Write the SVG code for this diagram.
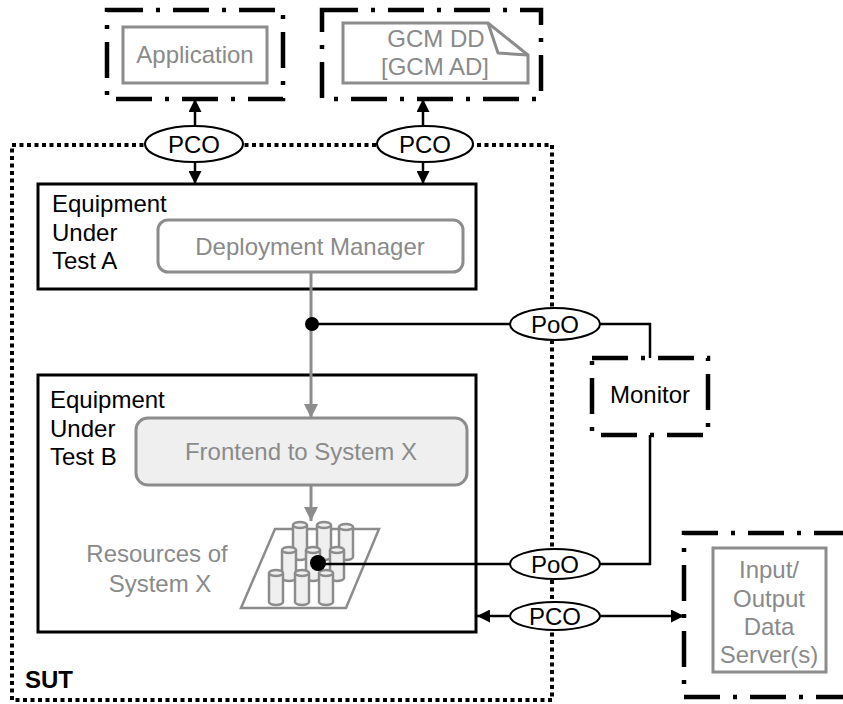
<svg xmlns="http://www.w3.org/2000/svg" width="843" height="704" viewBox="0 0 843 704">
  <style>
    text { font-family: "Liberation Sans", Arial, sans-serif; font-size: 24px; }
    .blk { fill: #000; }
    .gry { fill: #8a8a8a; }
    .mid { text-anchor: middle; }
    .dashdot { fill: none; stroke: #000; stroke-width: 4.5; stroke-dasharray: 36 13 4 13; }
    .sut { fill: none; stroke: #000; stroke-width: 4; stroke-dasharray: 4 3.5; }
    .eut { fill: #fff; stroke: #000; stroke-width: 3; }
    .grybox { fill: #fff; stroke: #8c8c8c; stroke-width: 3; }
    .wire { fill: none; stroke: #000; stroke-width: 2.5; }
    .gwire { fill: none; stroke: #8c8c8c; stroke-width: 3; }
    .port { fill: #fff; stroke: #000; stroke-width: 2; }
    .cyl { fill: #efefef; stroke: #8c8c8c; stroke-width: 2.5; }
  </style>
  <defs>
    <marker id="ah" viewBox="0 0 10 10" refX="10" refY="5" markerUnits="userSpaceOnUse" markerWidth="13" markerHeight="13" orient="auto-start-reverse">
      <path d="M0,0 L10,5 L0,10 z" fill="#000"/>
    </marker>
    <marker id="gah" viewBox="0 0 10 10" refX="10" refY="5" markerUnits="userSpaceOnUse" markerWidth="14" markerHeight="14" orient="auto">
      <path d="M0,0 L10,5 L0,10 z" fill="#8c8c8c"/>
    </marker>
  </defs>

  <!-- system under test boundary -->
  <g id="sut">
    <rect class="sut" x="12" y="145" width="540" height="555"/>
    <text class="blk" x="25" y="688" font-weight="bold" font-size="23">SUT</text>
  </g>

  <!-- external application -->
  <g id="application">
    <rect class="dashdot" x="107" y="10" width="176" height="89"/>
    <rect class="grybox" x="123" y="27" width="144" height="56"/>
    <text class="gry mid" x="195" y="63">Application</text>
  </g>

  <!-- deployment descriptor document -->
  <g id="gcm">
    <rect class="dashdot" x="322" y="10" width="219" height="89"/>
    <path class="grybox" d="M343,23 H488 L528,55 V83 H343 Z"/>
    <path fill="none" stroke="#8c8c8c" stroke-width="3" stroke-linejoin="round" d="M488,23 L498,53 L528,55"/>
    <text class="gry mid" x="436" y="47">GCM DD</text>
    <text class="gry mid" x="435" y="75">[GCM AD]</text>
  </g>

  <!-- equipment under test A -->
  <g id="eut-a">
    <rect class="eut" x="38" y="184" width="438" height="105"/>
    <text class="blk" x="52" y="212">Equipment</text>
    <text class="blk" x="52" y="241">Under</text>
    <text class="blk" x="52" y="269">Test A</text>
    <rect class="grybox" x="158" y="220" width="305" height="52" rx="10"/>
    <text class="gry mid" x="310" y="255">Deployment Manager</text>
  </g>

  <!-- equipment under test B -->
  <g id="eut-b">
    <rect class="eut" x="38" y="375" width="438" height="257"/>
    <text class="blk" x="50" y="408">Equipment</text>
    <text class="blk" x="50" y="437">Under</text>
    <text class="blk" x="50" y="465">Test B</text>
    <rect x="136" y="418" width="331" height="67" rx="12" fill="#efefef" stroke="#8c8c8c" stroke-width="3"/>
    <text class="gry mid" x="301" y="460">Frontend to System X</text>
  </g>

  <!-- resources of system X -->
  <g id="resources">
    <text class="gry mid" x="157" y="562">Resources of</text>
    <text class="gry mid" x="160" y="592">System X</text>
    <path fill="#fff" stroke="#8c8c8c" stroke-width="2.5" d="M275,529 H379 L346,608 H241 Z"/>
    <g id="cyl-back">
      <path class="cyl" d="M293,525 V557 A7,3 0 0 0 307,557 V525"/><ellipse class="cyl" cx="300" cy="525" rx="7" ry="3"/>
      <path class="cyl" d="M317,525 V557 A7,3 0 0 0 331,557 V525"/><ellipse class="cyl" cx="324" cy="525" rx="7" ry="3"/>
      <path class="cyl" d="M339,527 V557 A7,3 0 0 0 353,557 V527"/><ellipse class="cyl" cx="346" cy="527" rx="7" ry="3"/>
    </g>
    <g id="cyl-middle">
      <path class="cyl" d="M282,550 V578 A7,3 0 0 0 296,578 V550"/><ellipse class="cyl" cx="289" cy="550" rx="7" ry="3"/>
      <path class="cyl" d="M306,550 V578 A7,3 0 0 0 320,578 V550"/><ellipse class="cyl" cx="313" cy="550" rx="7" ry="3"/>
      <path class="cyl" d="M330,550 V578 A7,3 0 0 0 344,578 V550"/><ellipse class="cyl" cx="337" cy="550" rx="7" ry="3"/>
    </g>
    <g id="cyl-front">
      <path class="cyl" d="M269,573 V602 A7,3 0 0 0 283,602 V573"/><ellipse class="cyl" cx="276" cy="573" rx="7" ry="3"/>
      <path class="cyl" d="M295,573 V602 A7,3 0 0 0 309,602 V573"/><ellipse class="cyl" cx="302" cy="573" rx="7" ry="3"/>
      <path class="cyl" d="M319,573 V602 A7,3 0 0 0 333,602 V573"/><ellipse class="cyl" cx="326" cy="573" rx="7" ry="3"/>
    </g>
  </g>

  <!-- monitor -->
  <g id="monitor">
    <rect class="dashdot" x="592" y="358" width="116" height="77"/>
    <text class="blk mid" x="650" y="403">Monitor</text>
  </g>

  <!-- input/output data servers -->
  <g id="io-servers">
    <path class="dashdot" d="M850,533 H684 V697 H850"/>
    <rect class="grybox" x="713" y="548" width="113" height="124"/>
    <text class="gry mid" x="769" y="578">Input/</text>
    <text class="gry mid" x="769" y="607">Output</text>
    <text class="gry mid" x="769" y="635">Data</text>
    <text class="gry mid" x="769" y="663">Server(s)</text>
  </g>

  <!-- connectors -->
  <g id="connectors">
    <path class="wire" d="M195,127 V99" marker-end="url(#ah)"/>
    <path class="wire" d="M195,162 V184" marker-end="url(#ah)"/>
    <path class="wire" d="M423,127 V99" marker-end="url(#ah)"/>
    <path class="wire" d="M423,162 V184" marker-end="url(#ah)"/>
    <path class="gwire" d="M311,272 V418" marker-end="url(#gah)"/>
    <path class="gwire" d="M311,485 V521" marker-end="url(#gah)"/>
    <path class="wire" d="M312,324 H600 H650 V358"/>
    <path class="wire" d="M318,564 H650 V435"/>
    <path class="wire" d="M477,616 H684" marker-start="url(#ah)" marker-end="url(#ah)"/>
    <circle cx="312" cy="324" r="7" fill="#000"/>
    <circle cx="318" cy="563" r="8" fill="#000"/>
  </g>

  <!-- points of control and observation -->
  <g id="pco-app">
    <ellipse class="port" cx="194" cy="144" rx="49" ry="18"/>
    <text class="blk mid" x="194" y="153">PCO</text>
  </g>
  <g id="pco-gcm">
    <ellipse class="port" cx="425" cy="144" rx="48" ry="18"/>
    <text class="blk mid" x="425" y="153">PCO</text>
  </g>
  <g id="poo-eut-a">
    <ellipse class="port" cx="555" cy="324" rx="45" ry="16"/>
    <text class="blk mid" x="555" y="333">PoO</text>
  </g>
  <g id="poo-resources">
    <ellipse class="port" cx="555" cy="564" rx="45" ry="15"/>
    <text class="blk mid" x="555" y="573">PoO</text>
  </g>
  <g id="pco-io">
    <ellipse class="port" cx="555" cy="616" rx="45" ry="14"/>
    <text class="blk mid" x="555" y="625">PCO</text>
  </g>
</svg>
